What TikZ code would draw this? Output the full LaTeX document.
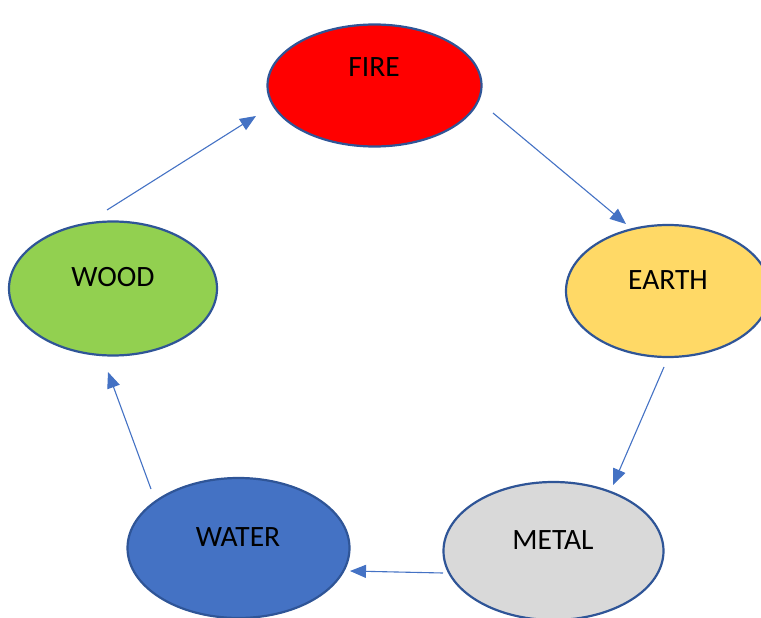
\documentclass[tikz,border=0pt]{standalone}
\usepackage{fontspec}
\setmainfont{Carlito}
\usetikzlibrary{arrows.meta}
\definecolor{edgeblue}{HTML}{2F5597}
\definecolor{arrowblue}{HTML}{4472C4}
\definecolor{firec}{HTML}{FF0000}
\definecolor{earthc}{HTML}{FFD966}
\definecolor{metalc}{HTML}{D9D9D9}
\definecolor{waterc}{HTML}{4472C4}
\definecolor{woodc}{HTML}{92D050}
\tikzset{
  elem/.style={draw=edgeblue, line width=2.2pt},
  lbl/.style={font=\fontsize{29.5}{34}\selectfont, text=black, inner sep=0pt},
  flow/.style={draw=arrowblue, line width=1.1pt, -{Triangle[length=16pt,width=13pt]}}
}
\begin{document}
\begin{tikzpicture}[x=1pt,y=-1pt]
\useasboundingbox (0,0) rectangle (761,618);
% ellipses
\path[elem, fill=firec] (374.5,85.5) ellipse [x radius=107, y radius=61];
\path[elem, fill=earthc] (668,291) ellipse [x radius=102, y radius=66];
\path[elem, fill=metalc] (553.5,551) ellipse [x radius=110, y radius=69];
\path[elem, fill=waterc] (238.5,548) ellipse [x radius=111, y radius=70];
\path[elem, fill=woodc] (113,288.5) ellipse [x radius=104, y radius=67];
% labels
\node[lbl] (fire) at (374,67) {FIRE};
\node[lbl] (earth) at (668,280) {EARTH};
\node[lbl] (metal) at (553,540) {METAL};
\node[lbl] (water) at (238,537) {WATER};
\node[lbl] (wood) at (113,277) {WOOD};
% arrow end points
\coordinate (a1s) at (493,113); \coordinate (a1e) at (626,224);
\coordinate (a2s) at (664,367); \coordinate (a2e) at (613,485);
\coordinate (a3s) at (443,573); \coordinate (a3e) at (350,571);
\coordinate (a4s) at (151,489); \coordinate (a4e) at (108,372);
\coordinate (a5s) at (107,210); \coordinate (a5e) at (256,116);
\draw[flow] (a1s) -- (a1e);
\draw[flow] (a2s) -- (a2e);
\draw[flow] (a3s) -- (a3e);
\draw[flow] (a4s) -- (a4e);
\draw[flow] (a5s) -- (a5e);
\end{tikzpicture}
\end{document}
